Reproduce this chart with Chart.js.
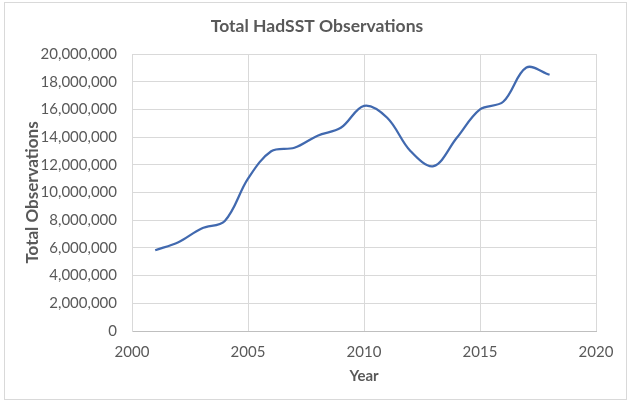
<!DOCTYPE html>
<html>
<head>
<meta charset="utf-8">
<script src="https://cdn.jsdelivr.net/npm/chart.js@4"></script>
<style>
  html, body { margin: 0; padding: 0; background: #fff; }
  #wrap { width: 633px; height: 407px; position: relative; }
</style>
</head>
<body>
<div id="wrap"><canvas id="obsChart" width="633" height="407"></canvas></div>
<script>
const years = [2001, 2002, 2003, 2004, 2005, 2006, 2007, 2008, 2009, 2010, 2011, 2012, 2013, 2014, 2015, 2016, 2017, 2018];
const observations = [5830000, 6410000, 7400000, 7950000, 11000000, 12980000, 13230000, 14100000, 14670000, 16260000,
  15400000, 13000000, 11900000, 13950000, 16000000, 16550000, 19020000, 18500000];
const yearTicks = [2000, 2005, 2010, 2015, 2020];

const textGrey = '#595959';
const fontFamily = 'Lato, "Open Sans", sans-serif';

// light grey frame round the whole chart, like the Excel chart area
const frame = {
  id: 'frame',
  beforeDraw(chart) {
    const ctx = chart.ctx;
    ctx.save();
    ctx.fillStyle = '#fff';
    ctx.fillRect(0, 0, chart.width, chart.height);
    ctx.strokeStyle = '#d9d9d9';
    ctx.lineWidth = 1;
    ctx.strokeRect(4.5, 2.5, 622, 397);
    ctx.restore();
  }
};

new Chart(document.getElementById('obsChart'), {
  type: 'line',
  data: {
    datasets: [{
      label: 'Total Observations',
      data: years.map((yr, i) => ({ x: yr, y: observations[i] })),
      borderColor: '#4169af',
      borderWidth: 2.25,
      pointRadius: 0,
      tension: 0.35,
      fill: false
    }]
  },
  options: {
    responsive: false,
    animation: false,
    // equal-ish side padding keeps the chart title centred on the canvas
    layout: { padding: { left: 38, right: 37, top: 0, bottom: 0 } },
    plugins: {
      legend: { display: false },
      tooltip: { enabled: false },
      title: {
        display: true,
        text: 'Total HadSST Observations',
        color: textGrey,
        font: { family: fontFamily, size: 17.5, weight: 'bold' },
        padding: { top: 15.5, bottom: 17.5 }
      }
    },
    scales: {
      x: {
        type: 'linear',
        min: 2000,
        max: 2020,
        afterBuildTicks: axis => { axis.ticks = yearTicks.map(v => ({ value: v })); },
        afterFit: axis => { axis.height = 76; },
        ticks: {
          color: textGrey,
          font: { family: fontFamily, size: 15 },
          padding: 12,
          maxRotation: 0,
          callback: v => String(v)
        },
        grid: { color: '#d9d9d9', drawTicks: false },
        border: { display: true, color: '#bfbfbf' },
        title: {
          display: true,
          text: 'Year',
          color: textGrey,
          font: { family: fontFamily, size: 15, weight: 'bold' },
          padding: { top: 0, bottom: 22 }
        }
      },
      y: {
        min: 0,
        max: 20000000,
        afterFit: axis => { axis.width = 94; },
        ticks: {
          stepSize: 2000000,
          color: textGrey,
          font: { family: fontFamily, size: 15 },
          padding: 15,
          callback: v => v.toLocaleString('en-US')
        },
        grid: { color: '#d9d9d9', drawTicks: false },
        border: { display: true, color: '#d9d9d9' },
        title: {
          display: true,
          text: 'Total Observations',
          color: textGrey,
          font: { family: fontFamily, size: 17, weight: 'bold' },
          padding: { top: -15.2, bottom: 0 }
        }
      }
    }
  },
  plugins: [frame]
});
</script>
</body>
</html>
